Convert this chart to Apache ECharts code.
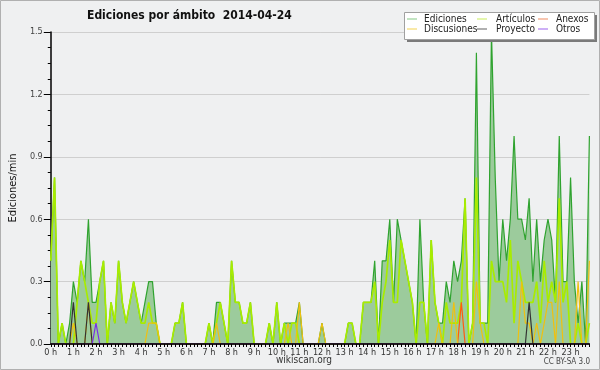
<!DOCTYPE html>
<html>
<head>
<meta charset="utf-8">
<script src="https://cdn.jsdelivr.net/npm/echarts@6/dist/echarts.min.js"></script>
<style>
html,body{margin:0;padding:0;background:#eff0f1;}
#c{width:600px;height:370px;}
</style>
</head>
<body>
<div id="c"></div>
<script>
// 10-minute slots, 0:00 .. 23:50
var hourLabels = ['0 h','1 h','2 h','3 h','4 h','5 h','6 h','7 h','8 h','9 h','10 h','11 h','12 h','13 h','14 h','15 h','16 h','17 h','18 h','19 h','20 h','21 h','22 h','23 h'];
var slots = ['00:00','00:10','00:20','00:30','00:40','00:50','01:00','01:10','01:20','01:30','01:40','01:50','02:00','02:10','02:20','02:30','02:40','02:50','03:00','03:10','03:20','03:30','03:40','03:50','04:00','04:10','04:20','04:30','04:40','04:50','05:00','05:10','05:20','05:30','05:40','05:50','06:00','06:10','06:20','06:30','06:40','06:50','07:00','07:10','07:20','07:30','07:40','07:50','08:00','08:10','08:20','08:30','08:40','08:50','09:00','09:10','09:20','09:30','09:40','09:50','10:00','10:10','10:20','10:30','10:40','10:50','11:00','11:10','11:20','11:30','11:40','11:50','12:00','12:10','12:20','12:30','12:40','12:50','13:00','13:10','13:20','13:30','13:40','13:50','14:00','14:10','14:20','14:30','14:40','14:50','15:00','15:10','15:20','15:30','15:40','15:50','16:00','16:10','16:20','16:30','16:40','16:50','17:00','17:10','17:20','17:30','17:40','17:50','18:00','18:10','18:20','18:30','18:40','18:50','19:00','19:10','19:20','19:30','19:40','19:50','20:00','20:10','20:20','20:30','20:40','20:50','21:00','21:10','21:20','21:30','21:40','21:50','22:00','22:10','22:20','22:30','22:40','22:50','23:00','23:10','23:20','23:30','23:40','23:50'];

var ediciones = [
0.4,0.8,0,0.1,0,0.1, 0.3,0.2,0.4,0.3,0.6,0.2, 0.2,0.3,0.4,0,0.2,0.1, 0.4,0.2,0.1,0.2,0.3,0.2,
0.1,0.2,0.3,0.3,0.1,0, 0,0,0,0.1,0.1,0.2, 0,0,0,0,0,0, 0.1,0,0.2,0.2,0.1,0,
0.4,0.2,0.2,0.1,0.1,0.2, 0,0,0,0,0.1,0, 0.2,0,0.1,0.1,0.1,0.1, 0.2,0,0,0,0,0,
0.1,0,0,0,0,0, 0,0.1,0.1,0,0,0.2, 0.2,0.2,0.4,0,0.4,0.4, 0.6,0.2,0.6,0.5,0.4,0.3,
0.2,0,0.6,0.2,0,0.5, 0.2,0.1,0.1,0.3,0.2,0.4, 0.3,0.4,0.7,0,0.1,1.4, 0.1,0.1,0.1,1.5,0.8,0.3,
0.6,0.4,0.6,1.0,0.6,0.6, 0.5,0.7,0.3,0.6,0.3,0.5, 0.6,0.5,0.2,1.0,0.3,0.3, 0.8,0.3,0.1,0.3,0,1.0];

var articulos = [
0.4,0.8,0,0.1,0,0, 0,0.2,0.4,0.3,0.2,0.1, 0.1,0.3,0.4,0,0.2,0.1, 0.4,0.2,0.1,0.2,0.3,0.2,
0.1,0.1,0.2,0.1,0.1,0, 0,0,0,0.1,0.1,0.2, 0,0,0,0,0,0, 0.1,0,0.1,0.2,0.1,0,
0.4,0.2,0.2,0.1,0.1,0.2, 0,0,0,0,0.1,0, 0.2,0,0.1,0,0.1,0.1, 0,0,0,0,0,0,
0,0,0,0,0,0, 0,0.1,0.1,0,0,0.2, 0.2,0.2,0.3,0,0.2,0.3, 0.5,0.2,0.2,0.5,0.4,0.3,
0.2,0,0.2,0.2,0,0.5, 0.2,0.1,0,0.2,0.1,0.1, 0.1,0.2,0.7,0,0.1,0.8, 0.1,0.1,0,0.4,0.3,0.3,
0.3,0.2,0.5,0.1,0.4,0.3, 0.2,0.2,0.2,0.3,0.1,0.4, 0.2,0.3,0.2,0.7,0.2,0.3, 0,0,0.1,0,0,0.1];

var anexos = new Array(144).fill(0);
anexos[109] = 0.2;

var discusiones = [
0,0,0,0,0,0, 0.1,0,0,0,0.2,0, 0,0,0,0,0,0, 0,0,0,0,0,0,
0,0,0.1,0.1,0.1,0, 0,0,0,0,0,0, 0,0,0,0,0,0, 0,0,0.1,0,0,0,
0,0,0,0,0,0, 0,0,0,0,0,0, 0,0,0,0.1,0,0, 0.2,0,0,0,0,0,
0.1,0,0,0,0,0, 0,0,0,0,0,0, 0,0,0,0,0,0, 0,0,0,0,0,0,
0,0,0,0,0,0, 0,0.1,0,0,0,0.2, 0,0,0,0,0,0.3, 0.1,0,0,0,0,0,
0,0,0,0,0,0.3, 0.1,0.1,0,0.1,0,0.1, 0.2,0.2,0,0.3,0,0, 0,0,0.3,0,0,0.4];

var proyecto = new Array(144).fill(0);
proyecto[6] = 0.2; proyecto[10] = 0.2; proyecto[127] = 0.2;

var otros = new Array(144).fill(0);
otros[12] = 0.1;

var yTicks = [0, 0.3, 0.6, 0.9, 1.2, 1.5];

var FONT = "'DejaVu Sans Condensed','DejaVu Sans',sans-serif";
var chart = echarts.init(document.getElementById('c'), null, {renderer:'canvas'});

function lineSeries(name, data, color, width, z) {
  return {
    name: name, type: 'line', data: data, showSymbol: false, symbol: 'none',
    lineStyle: {color: color, width: width}, itemStyle: {color: color},
    z: z, animation: false, silent: true
  };
}

var legendText = {fontFamily: FONT, fontSize: 10, color: '#222', lineHeight: 10, padding: [0,0,0,2]};
function legendCol(left, items) {
  return {
    left: left, top: 14, orient: 'vertical', itemGap: 0, padding: 0,
    icon: 'rect', itemWidth: 10, itemHeight: 1, selectedMode: false,
    textStyle: legendText, data: items
  };
}

var option = {
  backgroundColor: '#eff0f1',
  animation: false,
  title: {
    text: 'Ediciones por ámbito  2014-04-24',
    left: 82, top: 5,
    textStyle: {fontFamily: FONT, fontSize: 12, fontWeight: 'bold', color: '#111'}
  },
  graphic: [
    {type: 'rect', shape: {x: 0.5, y: 0.5, width: 599, height: 369}, style: {fill: 'none', stroke: '#b0b0b0', lineWidth: 1}, z: 100},
    {type: 'rect', shape: {x: 407, y: 15, width: 190, height: 27}, style: {fill: '#7a7a7a'}, z: 50},
    {type: 'rect', shape: {x: 404.5, y: 12.5, width: 190, height: 27}, style: {fill: '#ffffff', stroke: '#a0a0a0', lineWidth: 1}, z: 51},
    {type: 'text', left: 276, top: 355, style: {text: 'wikiscan.org', fontFamily: FONT, fontSize: 10, fill: '#333'}, z: 60},
    {type: 'text', right: 10, top: 358, style: {text: 'CC BY-SA 3.0', fontFamily: FONT, fontSize: 8, fill: '#444'}, z: 60}
  ],
  legend: [
    Object.assign(legendCol(407, [
      {name: 'Ediciones', itemStyle: {color: '#84c884'}},
      {name: 'Discusiones', itemStyle: {color: '#f2d250'}}
    ]), {z: 60}),
    Object.assign(legendCol(477, [
      {name: 'Artículos', itemStyle: {color: '#c8ec5a'}},
      {name: 'Proyecto', itemStyle: {color: '#606060'}}
    ]), {z: 60, textStyle: Object.assign({}, legendText, {padding: [0,0,0,4]})}),
    Object.assign(legendCol(538, [
      {name: 'Anexos', itemStyle: {color: '#ee8a60'}},
      {name: 'Otros', itemStyle: {color: '#9a60ec'}}
    ]), {z: 60, textStyle: Object.assign({}, legendText, {padding: [0,0,0,3]})})
  ],
  grid: {left: 46, right: 10.6, top: 32, bottom: 26, containLabel: false},
  xAxis: {
    type: 'category', data: slots, boundaryGap: false, z: 10,
    axisLine: {lineStyle: {color: '#000', width: 1.5}},
    axisTick: {show: true, interval: 0, length: 3, lineStyle: {color: '#000', width: 1}},
    axisLabel: {
      interval: 0, margin: 4, fontFamily: FONT, fontSize: 9, color: '#333',
      formatter: function (v, idx) { return idx % 6 === 0 ? hourLabels[idx / 6] : ''; }
    },
    splitLine: {show: false}
  },
  yAxis: {
    type: 'value', min: yTicks[0], max: yTicks[yTicks.length - 1], interval: 0.3,
    name: 'Ediciones/min', nameLocation: 'middle', nameGap: 31,
    nameTextStyle: {fontFamily: FONT, fontSize: 11, color: '#111'},
    axisLine: {show: true, lineStyle: {color: '#000', width: 1.5}},
    axisTick: {show: true, length: 7, lineStyle: {color: '#000'}},
    minorTick: {show: true, splitNumber: 4, length: 3, lineStyle: {color: '#000'}},
    axisLabel: {fontFamily: FONT, fontSize: 9, color: '#444', margin: 8,
      formatter: function (v) { return v.toFixed(1); }},
    splitLine: {show: true, lineStyle: {color: '#cfcfcf', width: 1}}
  },
  series: [
    Object.assign(lineSeries('Ediciones', ediciones, '#2fa32f', 1.2, 2), {
      areaStyle: {color: '#9ccb9c', opacity: 1}
    }),
    lineSeries('Artículos', articulos, '#a8ec00', 1.7, 3),
    lineSeries('Anexos', anexos, '#ff5a10', 1.2, 4),
    lineSeries('Discusiones', discusiones, '#f0c010', 1.2, 4),
    lineSeries('Proyecto', proyecto, '#333333', 1.2, 4),
    lineSeries('Otros', otros, '#7a30e8', 1.2, 4)
  ]
};
chart.setOption(option);
</script>
</body>
</html>
